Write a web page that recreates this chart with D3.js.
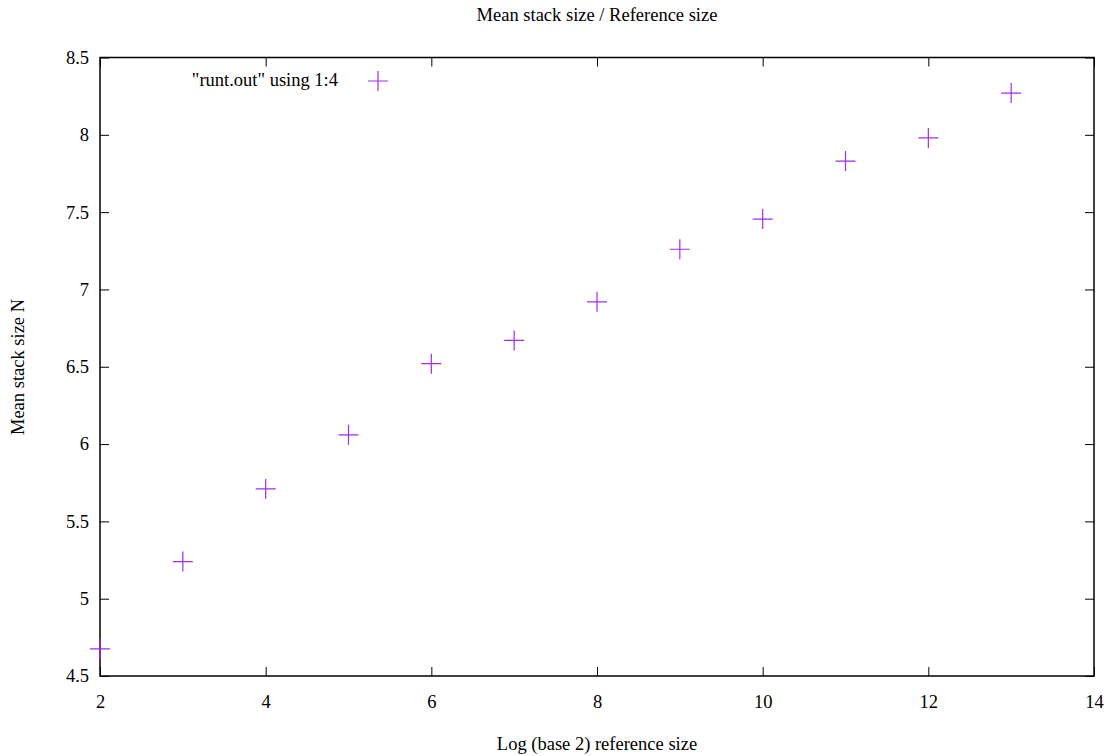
<!DOCTYPE html>
<html>
<head>
<meta charset="utf-8">
<script src="https://cdn.jsdelivr.net/npm/d3@7"></script>
<style>
  body { margin: 0; background: #fff; }
</style>
</head>
<body>
<svg id="chart" width="1105" height="756"></svg>
<script>
// data
var logSize = [2, 3, 4, 5, 6, 7, 8, 9, 10, 11, 12, 13];
var meanStack = [4.675, 5.24, 5.71, 6.06, 6.52, 6.67, 6.92, 7.26, 7.455, 7.83, 7.98, 8.27];
var xTicks = [2, 4, 6, 8, 10, 12, 14];
var yTicks = [4.5, 5, 5.5, 6, 6.5, 7, 7.5, 8, 8.5];
var seriesName = '"runt.out" using 1:4';

var serif = "'Liberation Serif'";
var fs = "18.5px";
var svg = d3.select("#chart");
var m = { left: 100, right: 1094, top: 57.5, bottom: 676 };
var purple = "#a02ee6";

var x = d3.scaleLinear().domain([2, 14]).range([m.left, m.right]);
var y = d3.scaleLinear().domain([4.5, 8.5]).range([m.bottom, m.top]);

// axes: ticks point inward, mirrored on top/right
var tl = 9;
svg.append("g").attr("transform", "translate(0," + m.bottom + ")")
  .call(d3.axisBottom(x).tickValues(xTicks).tickFormat(d3.format("d")).tickSizeInner(-tl).tickSizeOuter(0).tickPadding(19))
  .call(function(g){ g.select(".domain").remove(); });
svg.append("g").attr("transform", "translate(0," + m.top + ")")
  .call(d3.axisTop(x).tickValues(xTicks).tickFormat("").tickSizeInner(-tl).tickSizeOuter(0))
  .call(function(g){ g.select(".domain").remove(); });
svg.append("g").attr("transform", "translate(" + m.left + ",0)")
  .call(d3.axisLeft(y).tickValues(yTicks).tickFormat(function(d){ return d3.format("")(d); }).tickSizeInner(-tl).tickSizeOuter(0).tickPadding(11))
  .call(function(g){ g.select(".domain").remove(); });
svg.append("g").attr("transform", "translate(" + m.right + ",0)")
  .call(d3.axisRight(y).tickValues(yTicks).tickFormat("").tickSizeInner(-tl).tickSizeOuter(0))
  .call(function(g){ g.select(".domain").remove(); });
svg.selectAll(".tick line").attr("stroke", "#000").attr("stroke-width", 1);
svg.selectAll(".tick text").attr("fill", "#000").style("font-size", fs).style("font-family", serif);

svg.append("rect")
  .attr("x", m.left).attr("y", m.top)
  .attr("width", m.right - m.left).attr("height", m.bottom - m.top)
  .attr("fill", "none").attr("stroke", "#000").attr("stroke-width", 1.5);

// plus markers
var h = 10;
var pts = svg.append("g").selectAll("g").data(logSize).join("g")
  .attr("transform", function(d, i){ return "translate(" + x(d) + "," + y(meanStack[i]) + ")"; });
pts.append("path")
  .attr("d", "M" + (-h) + ",0H" + h + "M0," + (-h) + "V" + h)
  .attr("stroke", purple).attr("stroke-width", 1.2).attr("fill", "none");

// key
svg.append("text").attr("x", 338).attr("y", 86).attr("text-anchor", "end")
  .style("font-size", fs).style("font-family", serif).text(seriesName);
svg.append("path")
  .attr("d", "M" + (378 - h) + ",81H" + (378 + h) + "M378," + (81 - h) + "V" + (81 + h))
  .attr("stroke", purple).attr("stroke-width", 1.2);

// titles
svg.append("text").attr("x", 597).attr("y", 21).attr("text-anchor", "middle")
  .style("font-size", fs).style("font-family", serif).text("Mean stack size / Reference size");
svg.append("text").attr("x", 597).attr("y", 750).attr("text-anchor", "middle")
  .style("font-size", fs).style("font-family", serif).text("Log (base 2) reference size");
svg.append("text").attr("transform", "translate(24,367) rotate(-90)").attr("text-anchor", "middle")
  .style("font-size", fs).style("font-family", serif).text("Mean stack size N");
</script>
</body>
</html>
